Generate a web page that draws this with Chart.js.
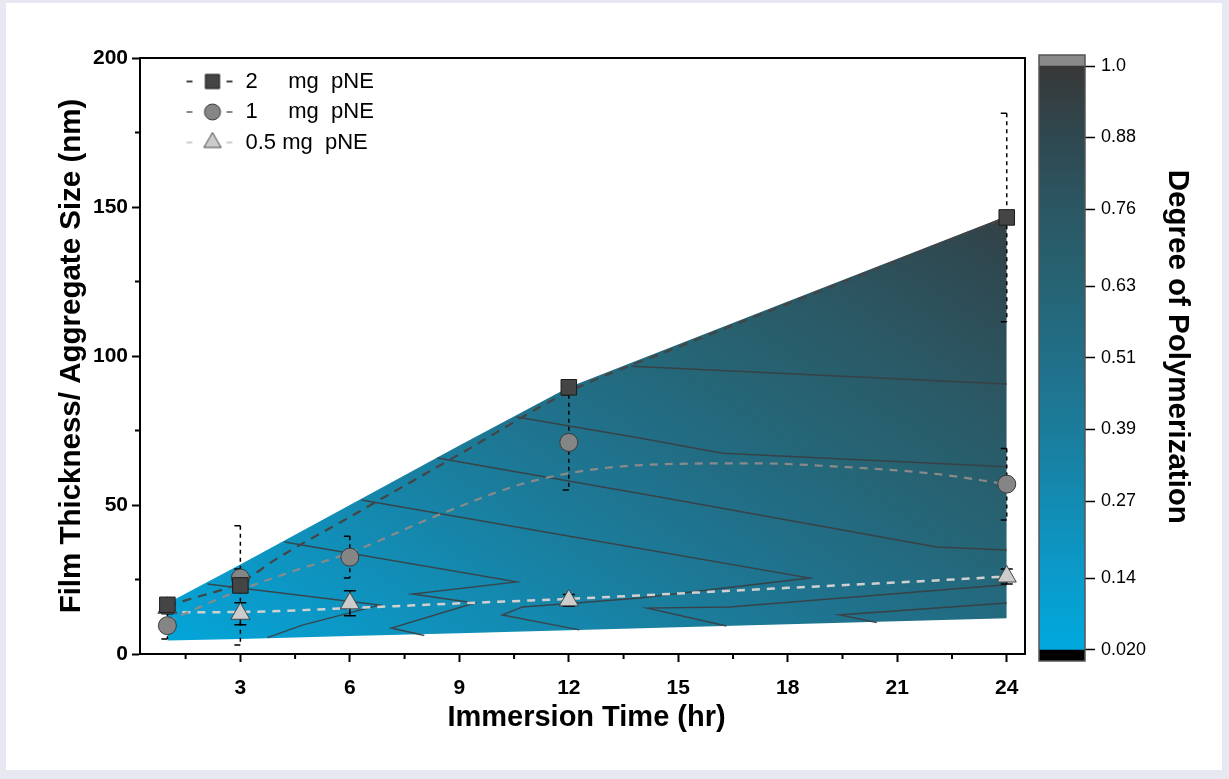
<!DOCTYPE html>
<html>
<head>
<meta charset="utf-8">
<script src="https://cdn.jsdelivr.net/npm/chart.js@4.4.0/dist/chart.umd.min.js"></script>
<style>
  html, body { margin: 0; padding: 0; }
  body { width: 1229px; height: 779px; background: #e8e8f2; position: relative; overflow: hidden; }
  #panel { position: absolute; left: 6px; top: 3px; width: 1216px; height: 767px; background: #fff; }
  #chart { position: absolute; left: 0; top: 0; width: 1030px; height: 779px; }
  #scale { position: absolute; left: 1030px; top: 0; width: 199px; height: 779px; }
</style>
</head>
<body>
<div id="panel"></div>
<canvas id="chart" width="1030" height="779"></canvas>
<canvas id="scale" width="199" height="779"></canvas>
<script>
// --- данные ---
const xTicks = [3, 6, 9, 12, 15, 18, 21, 24];
const xMinorTicks = [1.5, 4.5, 7.5, 10.5, 13.5, 16.5, 19.5, 22.5];
const yTicks = [0, 50, 100, 150, 200];
const yMinorTicks = [25, 75, 125, 175];

const seriesLabels = ['2     mg  pNE', '1     mg  pNE', '0.5 mg  pNE'];
const timeHr = [1, 3, 6, 12, 24];
const size2mg = [16.5, 23, null, 89.5, 146.5];
const err2mg = [1.5, 20, null, 1, 35];
const size1mg = [9.5, 25.5, 32.5, 71, 57];
const err1mg = [4.5, 3, 7, 16, 12];
const size05mg = [15.5, 13.5, 17, 18, 26];
const err05mg = [2, 3.7, 4.2, 2, 2.5];

// сглаженные кривые (пунктир)
const fit2mgX = [1, 1.5, 3, 4, 6, 9, 12, 15, 18, 21, 24];
const fit2mgY = [16, 18, 24, 32, 46, 67, 88, 103, 117.5, 132, 146.5];
const fit1mgX = [1, 1.5, 3, 4.5, 6, 8.5, 11, 14, 17, 19.5, 22, 24];
const fit1mgY = [11, 13.7, 21.5, 28, 34, 47, 58, 63.4, 64, 62.8, 60.5, 57];
const fit05mgX = [1, 3, 6, 9, 12, 15, 18, 21, 24];
const fit05mgY = [14, 14.1, 15.4, 17, 18.5, 20.3, 22.2, 24, 26];

// поверхность степени полимеризации
const surfX = [1, 3, 6, 9, 12, 18, 24];
const surfTop = [17, 30, 50, 70, 89.5, 118.3, 147];
const surfBottom = [4.5, 5, 6, 7, 8, 10, 12];
const dpPerHour = 0.02135;
const dpPerNm = 0.00274;

// изолинии
const contour1 = [[2.1, 23.5], [6.81, 16.4], [4.7, 9.7], [3.74, 5.5]];
const contour2 = [[4.21, 37.6], [10.57, 24.2], [7.72, 20.1], [9.42, 17.1], [7.14, 8.7], [8.04, 6.2]];
const contour3 = [[6.32, 51.7], [18.6, 25.5], [13.94, 18.8], [12.21, 17.1], [10.73, 15.8], [10.18, 13.1], [12.29, 8.1]];
const contour4 = [[8.4, 65.8], [14.49, 52.7], [22.08, 35.9], [24, 34.9]];
const contour5 = [[24, 23.2], [16.41, 15.8], [14.16, 15.4], [16.32, 9.4]];
const contour6 = [[10.57, 79.5], [13.94, 72.5], [16.21, 67.4], [24, 62.8]];
const contour7 = [[13.72, 96.6], [24, 90.6]];
const contour8 = [[24, 17.1], [19.42, 13.1], [20.44, 10.6]];

// цветовая шкала
const cbTicks = [0.02, 0.14, 0.27, 0.39, 0.51, 0.63, 0.76, 0.88, 1.0];
const cbTickLabels = ['0.020', '0.14', '0.27', '0.39', '0.51', '0.63', '0.76', '0.88', '1.0'];
const cbColors = ['#00a9de', '#0a9bcb', '#138bb2', '#1b7c9b', '#216f88', '#266474', '#2b5763', '#2f4850', '#383838'];
const cbMin = 0.0015;
const cbMax = 1.0185;

Chart.defaults.font.family = '"Liberation Sans", Arial, sans-serif';
Chart.defaults.color = '#000';

function toPts(xs, ys) {
    return xs.map((x, i) => ({x: x, y: ys[i]}));
}
function pairs(list) {
    return list.map(p => ({x: p[0], y: p[1]}));
}

function cmapGradient(ctx, x0, y0, x1, y1) {
    const g = ctx.createLinearGradient(x0, y0, x1, y1);
    cbTicks.forEach((d, i) => g.addColorStop((d - 0.02) / 0.98, cbColors[i]));
    return g;
}

// градиент поверхности: DP = 0.02 + a*t + b*y
function surfaceFill(context) {
    const chart = context.chart;
    const sx = chart.scales.x, sy = chart.scales.y;
    if (!chart.chartArea || !sx || !sy) return 'rgba(0,0,0,0)';
    const x0 = sx.getPixelForValue(0), y0 = sy.getPixelForValue(0);
    const gx = dpPerHour / (sx.getPixelForValue(1) - x0);
    const gy = dpPerNm / (sy.getPixelForValue(1) - y0);
    const k = 0.98 / (gx * gx + gy * gy);
    return cmapGradient(chart.ctx, x0, y0, x0 + gx * k, y0 + gy * k);
}

// стили маркеров
const markerStyles = [
    {pointStyle: 'rect', radius: 11, fill: '#454545', stroke: '#1c1c1c', line: '#444444', errDash: [4, 4], fullCap: false},
    {pointStyle: 'circle', radius: 9, fill: '#858585', stroke: '#3a3a3a', line: '#8a8a8a', errDash: [4, 4], fullCap: false},
    {pointStyle: 'triangle', radius: 11, fill: '#cccccc', stroke: '#444444', line: '#cfcfcf', errDash: [], fullCap: true}
];
const seriesValues = [size2mg, size1mg, size05mg];
const seriesErrors = [err2mg, err1mg, err05mg];

function legendIcon(st) {
    const c = document.createElement('canvas');
    c.width = 86; c.height = 24;
    const g = c.getContext('2d');
    g.strokeStyle = st.line;
    g.lineWidth = 2;
    g.setLineDash([6, 34]);
    g.beginPath(); g.moveTo(38, 12); g.lineTo(84, 12); g.stroke();
    g.setLineDash([]);
    g.fillStyle = st.fill;
    g.strokeStyle = st.stroke;
    g.lineWidth = 1;
    Chart.helpers.drawPoint(g, {pointStyle: st.pointStyle, radius: st.radius - 1, rotation: 0, borderWidth: 1}, 64, 12);
    return c;
}
const legendIcons = markerStyles.map(legendIcon);

// планки погрешностей
const errorBarPlugin = {
    id: 'errorBars',
    beforeDatasetDraw(chart, args) {
        if (args.index !== seriesValues.length - 1) return;
        const {ctx, scales: {x, y}} = chart;
        ctx.save();
        ctx.strokeStyle = '#000';
        ctx.lineWidth = 1.5;
        seriesValues.forEach((vals, si) => {
            const st = markerStyles[si];
            vals.forEach((v, i) => {
                const e = seriesErrors[si][i];
                if (v === null || e === null) return;
                const px = x.getPixelForValue(timeHr[i]);
                const top = y.getPixelForValue(v + e);
                const bot = y.getPixelForValue(v - e);
                ctx.setLineDash(st.errDash);
                ctx.beginPath(); ctx.moveTo(px, top); ctx.lineTo(px, bot); ctx.stroke();
                ctx.setLineDash([]);
                ctx.beginPath();
                const l = px - 6, r = st.fullCap ? px + 6 : px;
                ctx.moveTo(l, top); ctx.lineTo(r, top);
                ctx.moveTo(l, bot); ctx.lineTo(r, bot);
                ctx.stroke();
            });
        });
        ctx.restore();
    }
};

// рамка и малые деления
const framePlugin = {
    id: 'frame',
    afterDraw(chart) {
        const {ctx, chartArea: a, scales: {x, y}} = chart;
        ctx.save();
        ctx.strokeStyle = '#000';
        ctx.lineWidth = 2;
        ctx.beginPath();
        xMinorTicks.forEach(v => {
            const p = x.getPixelForValue(v);
            ctx.moveTo(p, a.bottom); ctx.lineTo(p, a.bottom + 5);
        });
        yMinorTicks.forEach(v => {
            const p = y.getPixelForValue(v);
            ctx.moveTo(a.left, p); ctx.lineTo(a.left - 5, p);
        });
        ctx.stroke();
        ctx.strokeRect(a.left, a.top, a.right - a.left, a.bottom - a.top);
        ctx.restore();
    }
};

// легенда внутри области графика
const legendPlacer = {
    id: 'legendPlacer',
    afterLayout(chart) {
        const lg = chart.legend, a = chart.chartArea;
        if (!lg) return;
        lg.left = a.left; lg.right = a.right; lg.top = a.top; lg.bottom = a.bottom;
    }
};

const markerSets = seriesValues.map((vals, i) => ({
    label: seriesLabels[i],
    data: toPts(timeHr, vals),
    showLine: false,
    pointStyle: markerStyles[i].pointStyle,
    pointRadius: markerStyles[i].radius,
    pointBackgroundColor: markerStyles[i].fill,
    pointBorderColor: markerStyles[i].stroke,
    pointBorderWidth: 1
}));

const fitSets = [
    {data: toPts(fit2mgX, fit2mgY), borderColor: '#444444', borderWidth: 2.2, borderDash: [9, 7]},
    {data: toPts(fit1mgX, fit1mgY), borderColor: '#8a8a8a', borderWidth: 2.2, borderDash: [8, 7]},
    {data: toPts(fit05mgX, fit05mgY), borderColor: '#d0d0d0', borderWidth: 2.5, borderDash: [8, 7]}
].map(d => Object.assign(d, {pointRadius: 0, cubicInterpolationMode: 'monotone', fill: false}));

const contourSets = [contour1, contour2, contour3, contour4, contour5, contour6, contour7, contour8].map(c => ({
    data: pairs(c),
    borderColor: 'rgba(58,62,64,0.9)',
    borderWidth: 1.5,
    pointRadius: 0,
    tension: 0,
    fill: false
}));

const surfaceSets = [
    {data: toPts(surfX, surfTop), borderColor: 'rgba(0,0,0,0)', borderWidth: 1, pointRadius: 0, tension: 0, fill: '+1', backgroundColor: surfaceFill},
    {data: toPts(surfX, surfBottom), borderColor: 'rgba(0,0,0,0)', borderWidth: 1, pointRadius: 0, tension: 0, fill: false}
];

const titleFont = {size: 29.5, weight: 'bold', lineHeight: 1};

const chart = new Chart(document.getElementById('chart').getContext('2d'), {
    type: 'line',
    data: {datasets: [...markerSets, ...fitSets, ...contourSets, ...surfaceSets]},
    options: {
        responsive: false,
        animation: false,
        events: [],
        layout: {autoPadding: false, padding: {left: 0, top: 58, right: 5, bottom: 0}},
        scales: {
            x: {
                type: 'linear', min: 0.25, max: 24.5,
                afterBuildTicks: s => { s.ticks = xTicks.map(v => ({value: v})); },
                afterFit: s => { s.height = 125; s.paddingLeft = 0; s.paddingRight = 0; },
                grid: {drawOnChartArea: false, drawTicks: true, tickLength: 8, tickWidth: 2, tickColor: '#000'},
                border: {display: true, color: '#000', width: 2},
                ticks: {font: {size: 21, weight: 'bold'}, padding: 14, maxRotation: 0, autoSkip: false, callback: v => String(v)},
                title: {display: true, text: ' Immersion Time (hr)', font: {size: 29, weight: 'bold', lineHeight: 1}, padding: {top: 47, bottom: 47}}
            },
            y: {
                type: 'linear', min: 0, max: 200,
                afterBuildTicks: s => { s.ticks = yTicks.map(v => ({value: v})); },
                afterFit: s => { s.width = 140; s.paddingTop = 0; s.paddingBottom = 0; },
                grid: {drawOnChartArea: false, drawTicks: true, tickLength: 8, tickWidth: 2, tickColor: '#000'},
                border: {display: true, color: '#000', width: 2},
                ticks: {font: {size: 21, weight: 'bold'}, padding: 4, callback: v => String(v)},
                title: {display: true, text: 'Film Thickness/ Aggregate Size (nm)', font: titleFont, padding: {top: 57, bottom: 57}}
            }
        },
        plugins: {
            tooltip: {enabled: false},
            legend: {
                position: 'chartArea',
                align: 'start',
                title: {display: true, text: '', padding: 0, font: {size: 4, lineHeight: 1}},
                labels: {
                    usePointStyle: true,
                    pointStyleWidth: 86,
                    padding: 8.5,
                    font: {size: 22},
                    color: '#000',
                    generateLabels: () => seriesLabels.map((t, i) => ({
                        text: t, pointStyle: legendIcons[i], datasetIndex: i,
                        hidden: false, fontColor: '#000', lineWidth: 0
                    }))
                }
            }
        }
    },
    plugins: [errorBarPlugin, framePlugin, legendPlacer]
});

// цветовая шкала справа
function barFill(context) {
    const c = context.chart;
    const sy = c.scales.y;
    if (!c.chartArea || !sy) return cbColors[0];
    return cmapGradient(c.ctx, 0, sy.getPixelForValue(0.02), 0, sy.getPixelForValue(1.0));
}

const outlinePlugin = {
    id: 'outline',
    afterDatasetsDraw(c) {
        const {ctx, chartArea: a} = c;
        ctx.save();
        ctx.strokeStyle = '#555';
        ctx.lineWidth = 1.5;
        ctx.strokeRect(a.left, a.top, a.right - a.left, a.bottom - a.top);
        ctx.restore();
    }
};

const scaleChart = new Chart(document.getElementById('scale').getContext('2d'), {
    type: 'bar',
    data: {
        labels: [''],
        datasets: [
            {data: [[cbMin, cbTicks[0]]], backgroundColor: '#000'},
            {data: [[cbTicks[0], cbTicks[cbTicks.length - 1]]], backgroundColor: barFill},
            {data: [[cbTicks[cbTicks.length - 1], cbMax]], backgroundColor: '#8a8a8a'}
        ].map(d => Object.assign(d, {barPercentage: 1, categoryPercentage: 1, grouped: false, borderWidth: 0}))
    },
    options: {
        responsive: false,
        animation: false,
        events: [],
        layout: {autoPadding: false, padding: {left: 9, top: 55, right: 0, bottom: 118}},
        scales: {
            x: {display: false},
            y: {
                position: 'right', min: cbMin, max: cbMax,
                afterBuildTicks: s => { s.ticks = cbTicks.map(v => ({value: v})); },
                afterFit: s => { s.width = 144; s.paddingTop = 0; s.paddingBottom = 0; },
                grid: {drawOnChartArea: false, drawTicks: true, tickLength: 10, tickWidth: 1.5, tickColor: '#000'},
                border: {display: false},
                ticks: {font: {size: 18}, padding: 6, callback: (v, i) => cbTickLabels[i]},
                title: {display: true, text: 'Degree of Polymerization  \u2009', font: titleFont, padding: {top: 37, bottom: 37}}
            }
        },
        plugins: {legend: {display: false}, tooltip: {enabled: false}}
    },
    plugins: [outlinePlugin]
});
</script>
</body>
</html>
